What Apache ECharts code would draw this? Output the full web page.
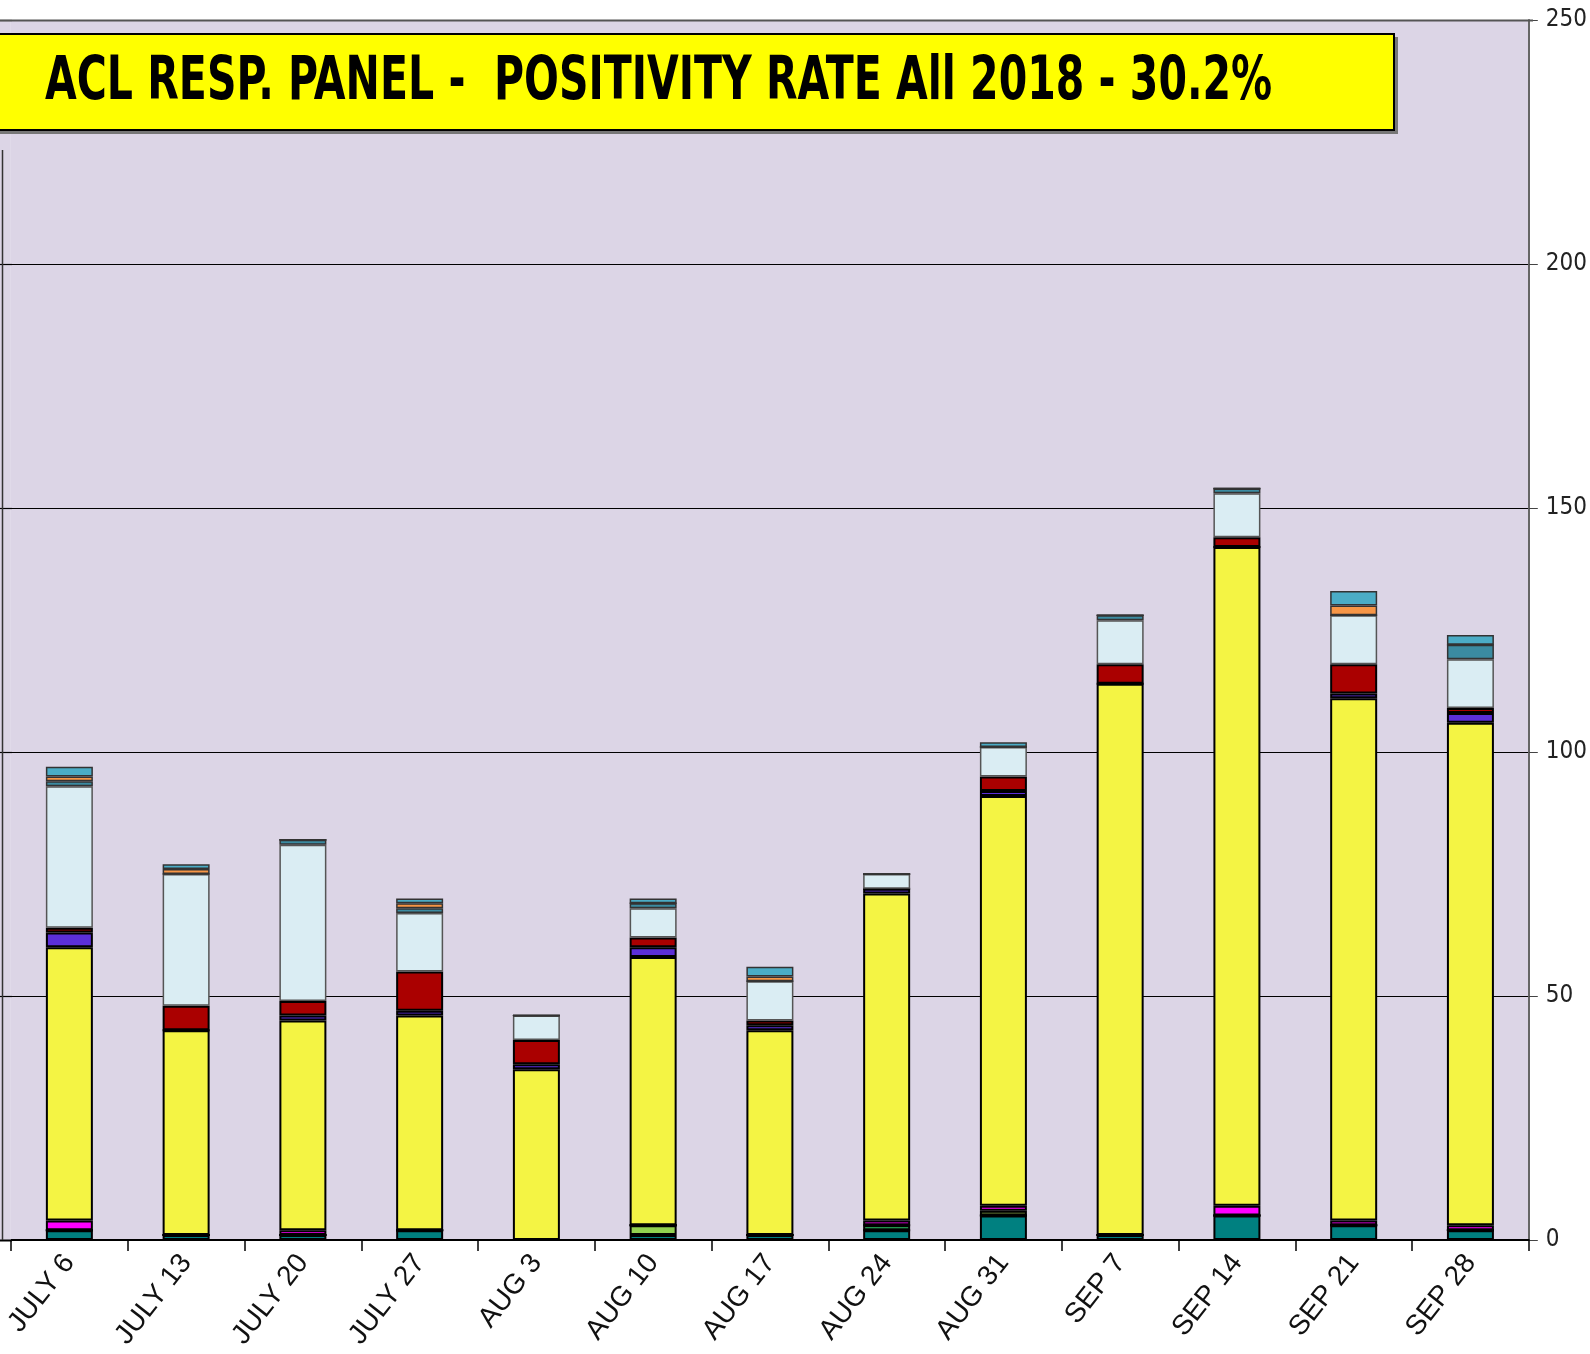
<!DOCTYPE html>
<html>
<head>
<meta charset="utf-8">
<title>ACL RESP. PANEL</title>
<script src="https://cdn.jsdelivr.net/npm/echarts@6/dist/echarts.min.js"></script>
<style>
  html, body { margin: 0; padding: 0; background: #fff; }
  #chart { width: 1590px; height: 1354px; }
</style>
</head>
<body>
<div id="chart"></div>
<script>
let categories = ['JULY 6', 'JULY 13', 'JULY 20', 'JULY 27', 'AUG 3', 'AUG 10', 'AUG 17', 'AUG 24', 'AUG 31', 'SEP 7', 'SEP 14', 'SEP 21', 'SEP 28'];
let yTicks = [0, 50, 100, 150, 200, 250];

// stacked from the bottom up
let teal       = [2, 1, 1, 2, 0, 1, 1, 2, 5, 1, 5, 3, 2];
let lightGreen = [0, 0, 0, 0, 0, 2, 0, 0, 0, 0, 0, 0, 0];
let green      = [0, 0, 0, 0, 0, 0, 0, 1, 0, 0, 0, 0, 0];
let olive      = [0, 0, 0, 0, 0, 0, 0, 0, 1, 0, 0, 0, 0];
let magenta    = [2, 0, 1, 0, 0, 0, 0, 1, 1, 0, 2, 1, 1];
let yellow     = [56, 42, 43, 44, 35, 55, 42, 67, 84, 113, 135, 107, 103];
let purple     = [3, 0, 1, 1, 1, 2, 1, 1, 1, 0, 0, 1, 2];
let darkRed    = [1, 5, 3, 8, 5, 2, 1, 0, 3, 4, 2, 6, 1];
let lightBlue  = [29, 27, 32, 12, 5, 6, 8, 3, 6, 9, 9, 10, 10];
let tealBlue   = [1, 0, 1, 1, 0, 1, 0, 0, 0, 1, 1, 0, 3];
let orange     = [1, 1, 0, 1, 0, 0, 1, 0, 0, 0, 0, 2, 0];
let cyan       = [2, 1, 0, 1, 0, 1, 2, 0, 1, 0, 0, 3, 2];

let titleText = 'ACL RESP. PANEL -  POSITIVITY RATE All 2018 - 30.2%';

let stack = [
  { name: 'teal', data: teal, color: '#008080', border: '#000' },
  { name: 'lightGreen', data: lightGreen, color: '#92d050', border: '#000' },
  { name: 'green', data: green, color: '#2fc46a', border: '#000' },
  { name: 'olive', data: olive, color: '#77933c', border: '#000' },
  { name: 'magenta', data: magenta, color: '#ff00ff', border: '#000' },
  { name: 'yellow', data: yellow, color: '#f4f444', border: '#000' },
  { name: 'purple', data: purple, color: '#5c2fd8', border: '#000' },
  { name: 'darkRed', data: darkRed, color: '#aa0000', border: '#000' },
  { name: 'lightBlue', data: lightBlue, color: '#daedf3', border: '#555' },
  { name: 'tealBlue', data: tealBlue, color: '#3b8ba1', border: '#333' },
  { name: 'orange', data: orange, color: '#f79646', border: '#333' },
  { name: 'cyan', data: cyan, color: '#4bacc6', border: '#333' }
];

let chart = echarts.init(document.getElementById('chart'));

let option = {
  backgroundColor: '#fff',
  animation: false,
  grid: {
    left: 11,
    right: 57,
    top: 20,
    bottom: 114,
    show: true,
    backgroundColor: '#dcd5e6',
    borderWidth: 0
  },
  xAxis: {
    type: 'category',
    data: categories,
    axisLine: { lineStyle: { color: '#000', width: 2 } },
    axisTick: { show: true, length: 11, lineStyle: { color: '#000', width: 1.5 } },
    axisLabel: {
      rotate: 52,
      color: '#111',
      fontFamily: 'Liberation Sans, Arial, sans-serif',
      fontSize: 28,
      margin: 18
    }
  },
  yAxis: {
    type: 'value',
    position: 'right',
    min: yTicks[0],
    max: yTicks[yTicks.length - 1],
    interval: 50,
    axisLine: { show: true, lineStyle: { color: '#666', width: 2 } },
    axisTick: { show: true, length: 9, lineStyle: { color: '#444' } },
    axisLabel: {
      color: '#222',
      fontFamily: 'Liberation Sans Narrow, DejaVu Sans Condensed, sans-serif',
      fontSize: 24,
      margin: 17
    },
    splitLine: { lineStyle: { color: '#000', width: 1.2 } }
  },
  series: stack.map(function (s) {
    return {
      name: s.name,
      type: 'bar',
      stack: 'total',
      barWidth: 47,
      data: s.data,
      itemStyle: { color: s.color, borderColor: s.border, borderWidth: s.border === '#000' ? 2 : 1.5 }
    };
  })
};

chart.setOption(option);

// the plot area runs on past the first tick to the picture's left edge
let yTop = chart.convertToPixel({ yAxisIndex: 0 }, yTicks[yTicks.length - 1]);
let yBottom = chart.convertToPixel({ yAxisIndex: 0 }, yTicks[0]);
let xStart = chart.convertToPixel({ xAxisIndex: 0 }, 0) - 117 / 2;

let graphics = [
  {
    type: 'rect',
    shape: { x: 0, y: yTop, width: xStart, height: yBottom - yTop },
    style: { fill: '#dcd5e6' },
    z: 1
  }
];
yTicks.forEach(function (v) {
  let y = Math.round(chart.convertToPixel({ yAxisIndex: 0 }, v)) + 0.5;
  graphics.push({
    type: 'line',
    shape: { x1: 0, y1: y, x2: xStart + 1, y2: y },
    style: { stroke: '#000', lineWidth: v === 0 ? 2 : 1.2 },
    z: 2
  });
});
// top edge of the plot is a heavier grey line
graphics.push({
  type: 'line',
  shape: { x1: 0, y1: Math.round(yTop) + 0.5, x2: 1533, y2: Math.round(yTop) + 0.5 },
  style: { stroke: '#555', lineWidth: 2 },
  z: 3
});
graphics.push(
  {
    type: 'line',
    shape: { x1: 2.5, y1: 150, x2: 2.5, y2: yBottom },
    style: { stroke: '#333', lineWidth: 1.5 },
    z: 50
  },
  {
    type: 'rect',
    shape: { x: -4, y: 37, width: 1402, height: 97 },
    style: { fill: '#777' },
    z: 99
  },
  {
    type: 'rect',
    shape: { x: -4, y: 34, width: 1398, height: 96 },
    style: { fill: '#ffff00', stroke: '#000', lineWidth: 2 },
    z: 100
  },
  {
    type: 'text',
    x: 45,
    y: 83,
    scaleX: 0.76,
    style: {
      text: titleText,
      fill: '#000',
      font: 'bold 60px "Liberation Sans Narrow", "DejaVu Sans Condensed", sans-serif',
      textVerticalAlign: 'middle'
    },
    z: 101
  }
);

chart.setOption({ graphic: graphics });
</script>
</body>
</html>
